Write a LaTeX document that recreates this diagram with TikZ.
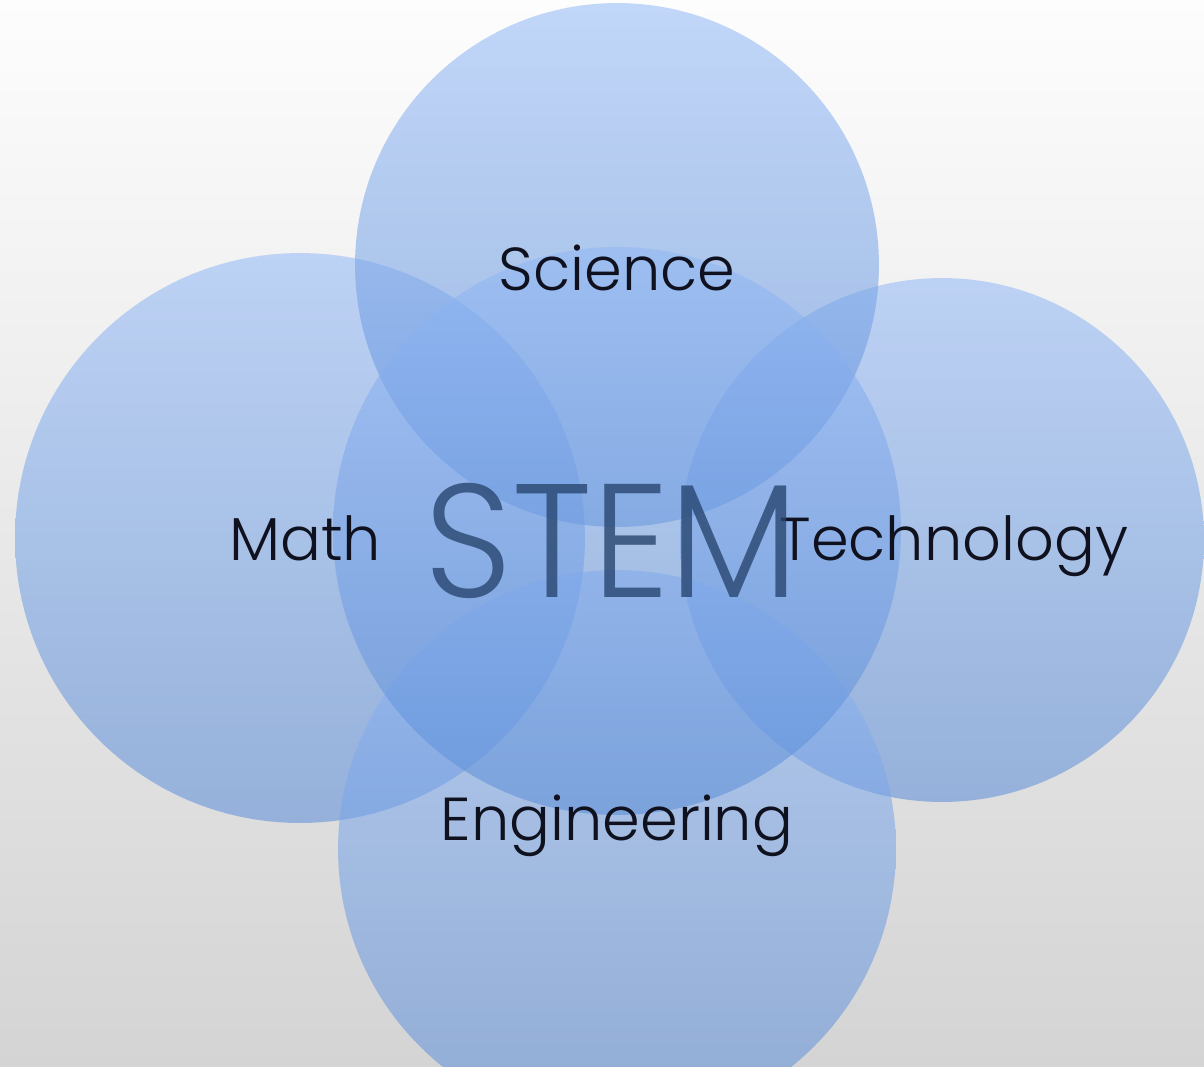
\documentclass[tikz,border=0pt]{standalone}
\usepackage{fontspec}
\setmainfont{Poppins}[UprightFont=* Light]
\newfontfamily\stemfont{Poppins}[UprightFont=* Light]
\definecolor{bgtop}{RGB}{253,253,253}
\definecolor{bgbot}{RGB}{212,212,212}
\definecolor{ctop}{RGB}{145,184,246}
\definecolor{cbot}{RGB}{90,140,216}
\definecolor{lbl}{RGB}{15,18,30}
\definecolor{stemc}{RGB}{40,70,112}
\begin{document}
\begin{tikzpicture}[x=0.02cm,y=-0.02cm]
\tikzset{
  bubble/.style={circle, inner sep=0pt, draw=none, top color=ctop, bottom color=cbot, fill opacity=0.55},
  lab/.style={anchor=base, text=lbl, inner sep=0pt, font=\fontsize{34.5}{40}\selectfont},
  stemtxt/.style={anchor=base, text=stemc, text opacity=0.8, inner sep=0pt, font=\stemfont\fontsize{92}{100}\selectfont}
}
\shade[top color=bgtop, bottom color=bgbot] (0,0) rectangle (1204,1066);
\useasboundingbox (0,0) rectangle (1204,1066);
\clip (0,0) rectangle (1204,1066);
\node[bubble, minimum size=11.4cm] (cmath) at (300,538) {};
\node[bubble, minimum size=10.48cm] (ctech) at (942,540) {};
\node[bubble, minimum size=11.16cm] (ceng) at (617,849) {};
\node[bubble, minimum size=10.48cm] (csci) at (617,265) {};
\node[bubble, minimum size=11.36cm] (ccen) at (617,531) {};
\node[lab] (tsci) at (617,290) {Science};
\node[lab] (tmath) at (305,560) {Math};
\node[lab] (ttech) at (954,560) {Technology};
\node[lab] (teng) at (617,840) {Engineering};
\node[stemtxt] (tstem) at (612,597) {\scalebox{0.95}[1]{STEM}};
\end{tikzpicture}
\end{document}
